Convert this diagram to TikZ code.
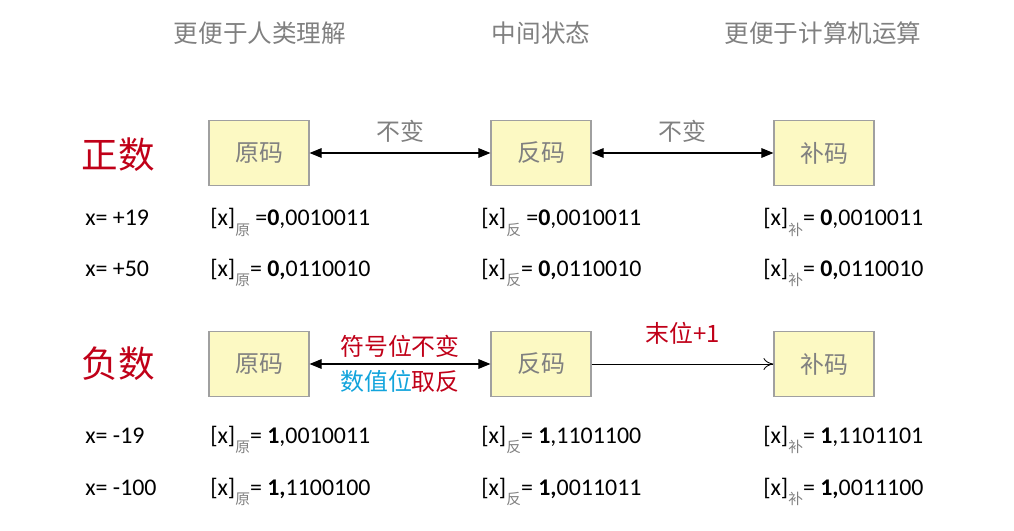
\documentclass[tikz,border=0pt]{standalone}
\usepackage{fontspec}
\usepackage{xcolor}
\usepackage{tikz}
\usetikzlibrary{arrows.meta}
\setmainfont{Carlito}
\newfontfamily\cjk{Noto Sans CJK SC}
\definecolor{numred}{HTML}{C00018}
\definecolor{hdrgray}{HTML}{808080}
\definecolor{boxfill}{HTML}{FCF9C3}
\definecolor{boxline}{HTML}{A0A0A0}
\definecolor{valblue}{HTML}{12A4DC}
\newcommand{\codesub}[1]{\raisebox{-0.8ex}{\fontsize{10.5}{10.5}\selectfont\cjk\color{hdrgray}#1}}

\begin{document}
\begin{tikzpicture}[x=0.025cm,y=-0.025cm,
    hdr/.style={font=\cjk\fontsize{17.5}{17.5}\selectfont,text=hdrgray},
    kind/.style={font=\cjk\fontsize{26}{26}\selectfont,text=numred},
    codebox/.style={draw=boxline,fill=boxfill,line width=0.8pt,minimum width=2.5cm,minimum height=1.62cm,
      font=\cjk\fontsize{17}{17}\selectfont,text=hdrgray},
    rowtext/.style={anchor=base west,inner sep=0pt,font=\fontsize{17}{17}\selectfont},
    lbl/.style={font=\cjk\fontsize{17}{17}\selectfont},
    dbl/.style={{Triangle[length=3mm,width=2.4mm]}-{Triangle[length=3mm,width=2.4mm]},line width=0.8pt},
    one/.style={-{To[length=2.5mm,width=3mm]},line width=0.6pt}]
  \useasboundingbox (0,0) rectangle (1014,531);

  % headers
  \node[hdr] (hman) at (260,33) {更便于人类理解};
  \node[hdr] (hmid) at (541,33) {中间状态};
  \node[hdr] (hpc) at (823,33) {更便于计算机运算};

  % positive numbers
  \node[kind] (pos) at (118,155) {正数};
  \node[codebox] (pyuan) at (259,153) {原码};
  \node[codebox] (pfan) at (541,153) {反码};
  \node[codebox] (pbu) at (824,153) {补码};
  \draw[dbl] (pyuan) -- (pfan) node[midway,above=4pt,lbl,text=hdrgray] {不变};
  \draw[dbl] (pfan) -- (pbu) node[midway,above=4pt,lbl,text=hdrgray] {不变};

  \node[rowtext] (xa) at (85,226) {x= +19};
  \node[rowtext] (ya) at (210,226) {[x]\codesub{原} =\textbf{0},0010011};
  \node[rowtext] (fa) at (481,226) {[x]\codesub{反} =\textbf{0},0010011};
  \node[rowtext] (ba) at (763,226) {[x]\codesub{补}= \textbf{0},0010011};
  \node[rowtext] (xb) at (85,276) {x= +50};
  \node[rowtext] (yb) at (210,276) {[x]\codesub{原}= \textbf{0,}0110010};
  \node[rowtext] (fb) at (481,276) {[x]\codesub{反}= \textbf{0,}0110010};
  \node[rowtext] (bb) at (763,276) {[x]\codesub{补}= \textbf{0,}0110010};

  % negative numbers
  \node[kind] (neg) at (118,364) {负数};
  \node[codebox] (nyuan) at (259,364) {原码};
  \node[codebox] (nfan) at (541,364) {反码};
  \node[codebox] (nbu) at (824,364) {补码};
  \draw[dbl] (nyuan) -- (nfan)
    node[midway,above=1pt,lbl,text=numred] {符号位不变}
    node[midway,below=1pt,lbl] {\textcolor{valblue}{数值位}\textcolor{numred}{取反}};
  \draw[one] (nfan) -- (nbu) node[midway,above=10pt,lbl,text=numred] {末位+1};

  \node[rowtext] (xc) at (85,443) {x= -19};
  \node[rowtext] (yc) at (210,443) {[x]\codesub{原}= \textbf{1},0010011};
  \node[rowtext] (fc) at (481,443) {[x]\codesub{反}= \textbf{1},1101100};
  \node[rowtext] (bc) at (763,443) {[x]\codesub{补}= \textbf{1},1101101};
  \node[rowtext] (xd) at (85,495) {x= -100};
  \node[rowtext] (yd) at (210,495) {[x]\codesub{原}= \textbf{1,}1100100};
  \node[rowtext] (fd) at (481,495) {[x]\codesub{反}= \textbf{1,}0011011};
  \node[rowtext] (bd) at (763,495) {[x]\codesub{补}= \textbf{1,}0011100};
\end{tikzpicture}
\end{document}
